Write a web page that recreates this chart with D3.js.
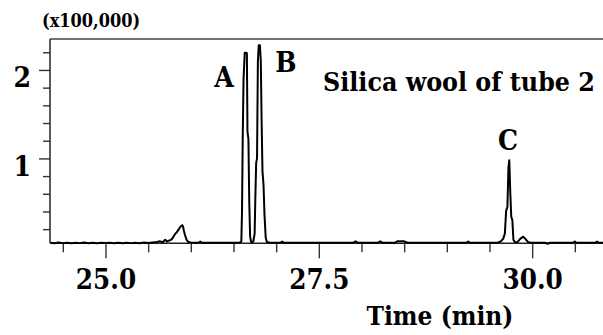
<!DOCTYPE html>
<html>
<head>
<meta charset="utf-8">
<script src="https://cdn.jsdelivr.net/npm/d3@7/dist/d3.min.js"></script>
<style>
  html, body { margin: 0; padding: 0; background: #fff; }
  svg { display: block; }
  text { font-family: "DejaVu Serif Condensed", "DejaVu Serif", serif; font-stretch: condensed; font-weight: bold; fill: #000; }
</style>
</head>
<body>
<script>
// Retention time (min)
const times = [
  24.36, 24.40, 24.45, 24.50, 24.55, 24.60, 24.65, 24.70, 24.75, 24.80,
  24.85, 24.90, 24.95, 25.00, 25.05, 25.10, 25.15, 25.20, 25.25, 25.30,
  25.35, 25.40, 25.45, 25.50, 25.55, 25.60, 25.64, 25.67, 25.70, 25.72,
  25.74, 25.76, 25.78, 25.80, 25.82, 25.84, 25.86, 25.88, 25.90, 25.91,
  25.92, 25.93, 25.95, 25.97, 26.00, 26.05, 26.09, 26.11, 26.13, 26.20,
  26.30, 26.40, 26.50, 26.57, 26.592, 26.600, 26.608, 26.618, 26.632, 26.645,
  26.657, 26.664, 26.675, 26.685, 26.695, 26.705, 26.717, 26.732, 26.748, 26.756,
  26.766, 26.776, 26.786, 26.796, 26.810, 26.820, 26.830, 26.840, 26.852, 26.864,
  26.878, 26.892, 26.92, 27.00, 27.05, 27.07, 27.09, 27.20, 27.40, 27.60,
  27.80, 27.90, 27.93, 27.96, 28.05, 28.19, 28.22, 28.25, 28.39, 28.42,
  28.50, 28.54, 28.70, 28.90, 29.10, 29.23, 29.25, 29.27, 29.40, 29.55,
  29.60, 29.63, 29.66, 29.68, 29.695, 29.710, 29.722, 29.732, 29.744, 29.755,
  29.768, 29.780, 29.80, 29.83, 29.86, 29.895, 29.92, 29.95, 29.98, 30.05,
  30.15, 30.18, 30.21, 30.35, 30.48, 30.50, 30.52, 30.65, 30.74, 30.76,
  30.78, 30.83
];
// Intensity (x100,000)
const intensity = [
  0.045, 0.040, 0.050, 0.042, 0.047, 0.040, 0.046, 0.042, 0.048, 0.041,
  0.045, 0.040, 0.047, 0.043, 0.046, 0.041, 0.045, 0.040, 0.047, 0.042,
  0.046, 0.041, 0.048, 0.043, 0.050, 0.055, 0.062, 0.052, 0.080, 0.060,
  0.070, 0.075, 0.090, 0.120, 0.150, 0.170, 0.200, 0.230, 0.245, 0.225,
  0.180, 0.140, 0.080, 0.055, 0.048, 0.046, 0.046, 0.060, 0.046, 0.045,
  0.046, 0.045, 0.046, 0.047, 0.060, 0.400, 1.200, 1.900, 2.195, 2.195,
  2.190, 1.300, 1.220, 0.500, 0.120, 0.060, 0.050, 0.060, 0.150, 0.550,
  0.950, 1.000, 2.100, 2.280, 2.280, 2.100, 1.400, 0.850, 0.700, 0.350,
  0.100, 0.055, 0.048, 0.046, 0.046, 0.060, 0.046, 0.045, 0.046, 0.045,
  0.046, 0.046, 0.062, 0.046, 0.045, 0.046, 0.062, 0.046, 0.046, 0.062,
  0.062, 0.046, 0.045, 0.046, 0.045, 0.046, 0.060, 0.046, 0.045, 0.046,
  0.050, 0.060, 0.090, 0.150, 0.410, 0.450, 0.900, 0.980, 0.600, 0.340,
  0.300, 0.080, 0.048, 0.055, 0.090, 0.115, 0.090, 0.055, 0.046, 0.045,
  0.046, 0.035, 0.046, 0.045, 0.046, 0.060, 0.046, 0.045, 0.046, 0.060,
  0.046, 0.046
];
const xMajor = [25.0, 27.5, 30.0];
const xMajorLabels = ["25.0", "27.5", "30.0"];
const xMinor = [24.5, 25.5, 26.0, 26.5, 27.0, 28.0, 28.5, 29.0, 29.5, 30.5];
const yMajor = [1, 2];
const yMajorLabels = ["1", "2"];
const yMinor = [0.2, 0.4, 0.6, 0.8, 1.2, 1.4, 1.6, 1.8, 2.2];
const peakNames = ["A", "B", "C"];

const W = 603, H = 335;
const svg = d3.select("body").append("svg").attr("width", W).attr("height", H);

const x = d3.scaleLinear().domain([24.350, 30.830]).range([50, 603]);
const y = d3.scaleLinear().domain([0.04, 2.35]).range([243.3, 39]);

// top frame line
svg.append("line").attr("x1", 50).attr("x2", W).attr("y1", 39).attr("y2", 39)
  .attr("stroke", "#444").attr("stroke-width", 1.5);

function styleAxis(g) {
  g.select(".domain").remove();
  g.selectAll(".tick line").attr("stroke", "#333").attr("stroke-width", 1.4);
}

// X axis
svg.append("g").attr("transform", "translate(0,243.3)")
  .call(d3.axisBottom(x).tickValues(xMinor).tickSize(9).tickFormat(""))
  .call(styleAxis);
const gxM = svg.append("g").attr("transform", "translate(0,243.3)")
  .call(d3.axisBottom(x).tickValues(xMajor).tickSize(15)
    .tickFormat((d, i) => xMajorLabels[i]))
  .call(styleAxis);
gxM.selectAll(".tick text").attr("y", 0).attr("dy", 46)
  .style("font-size", "27.5px").attr("fill", "#000");

// Y axis
svg.append("g").attr("transform", "translate(50,0)")
  .call(d3.axisLeft(y).tickValues(yMinor).tickSize(7).tickFormat(""))
  .call(styleAxis);
const gyM = svg.append("g").attr("transform", "translate(50,0)")
  .call(d3.axisLeft(y).tickValues(yMajor).tickSize(11)
    .tickFormat((d, i) => yMajorLabels[i]))
  .call(styleAxis);
gyM.selectAll(".tick text").attr("x", -19).attr("dy", 17)
  .style("font-size", "28px").attr("fill", "#000");

// axis lines
svg.append("line").attr("x1", 50).attr("x2", 50).attr("y1", 39).attr("y2", 243.3)
  .attr("stroke", "#222").attr("stroke-width", 1.5);
svg.append("line").attr("x1", 50).attr("x2", W).attr("y1", 243.3).attr("y2", 243.3)
  .attr("stroke", "#222").attr("stroke-width", 1.5);

// trace
const pts = times.map((t, i) => [t, intensity[i]]);
svg.append("path").datum(pts)
  .attr("fill", "none").attr("stroke", "#000").attr("stroke-width", 2)
  .attr("stroke-linejoin", "round")
  .attr("d", d3.line().x(d => x(d[0])).y(d => y(d[1])));

// peak labels
const labelPos = [[224, 87], [286, 72], [508, 150]];
svg.selectAll("text.peak").data(peakNames).enter().append("text")
  .attr("class", "peak")
  .attr("x", (d, i) => labelPos[i][0]).attr("y", (d, i) => labelPos[i][1])
  .attr("text-anchor", "middle").style("font-size", "28px").text(d => d);

// multiplier
svg.append("text").attr("x", 42).attr("y", 27).style("font-size", "18px").text("(x100,000)");

// sample title
svg.append("text").attr("x", 323).attr("y", 91).style("font-size", "26.5px").text("Silica wool of tube 2");

// axis title
svg.append("text").attr("x", 440).attr("y", 325).attr("text-anchor", "middle")
  .style("font-size", "26px").text("Time (min)");
</script>
</body>
</html>
